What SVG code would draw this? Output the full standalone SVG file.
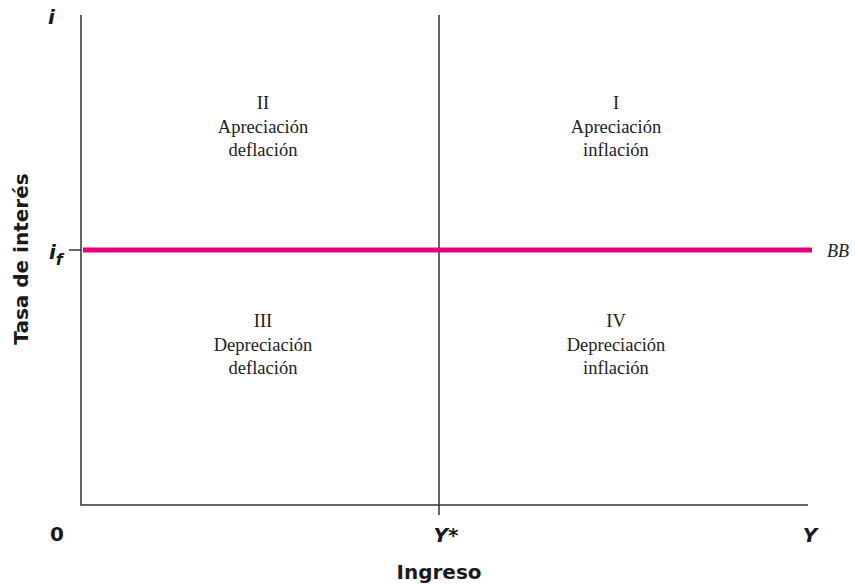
<svg xmlns="http://www.w3.org/2000/svg" width="855" height="585" viewBox="0 0 855 585">
<style>
.ax{stroke:#333;stroke-width:1.5;fill:none}
.q{font-family:"Liberation Serif",serif;font-size:18.5px;fill:#222;text-anchor:middle}
.lb{font-family:"DejaVu Sans",sans-serif;font-weight:bold;font-size:20px;fill:#1a1a1a}
</style>
<rect width="855" height="585" fill="#fff"/>
<g id="axes">
<path class="ax" d="M81 15 V505 H808"/>
<path class="ax" d="M439 15 V515"/>
<path class="ax" d="M69 250 H81"/>
</g>
<g id="connectors">
<line x1="83" y1="250" x2="812" y2="250" stroke="#E6007E" stroke-width="5"/>
</g>
<g id="q2"><text class="q" x="263" y="109">II</text><text class="q" x="263" y="133">Apreciación</text><text class="q" x="263" y="156">deflación</text></g>
<g id="q1"><text class="q" x="616" y="109">I</text><text class="q" x="616" y="133">Apreciación</text><text class="q" x="616" y="156">inflación</text></g>
<g id="q3"><text class="q" x="263" y="327">III</text><text class="q" x="263" y="351">Depreciación</text><text class="q" x="263" y="374">deflación</text></g>
<g id="q4"><text class="q" x="616" y="327">IV</text><text class="q" x="616" y="351">Depreciación</text><text class="q" x="616" y="374">inflación</text></g>
<g id="labels">
<text class="lb" x="48" y="24" font-style="italic" font-size="23">i</text>
<text class="lb" x="49" y="259" font-style="italic" font-size="23">i<tspan font-size="16" dy="6">f</tspan></text>
<text class="lb" x="50" y="541" font-size="21">0</text>
<text class="lb" x="446" y="542" text-anchor="middle" font-style="italic">Y*</text>
<text class="lb" x="810" y="542" text-anchor="middle" font-style="italic">Y</text>
<text class="lb" x="439" y="579" text-anchor="middle" font-size="19">Ingreso</text>
<text class="lb" transform="translate(28,259) rotate(-90)" text-anchor="middle">Tasa de interés</text>
<text x="827" y="257" font-family="Liberation Serif,serif" font-style="italic" font-size="18" fill="#222">BB</text>
</g>
</svg>
